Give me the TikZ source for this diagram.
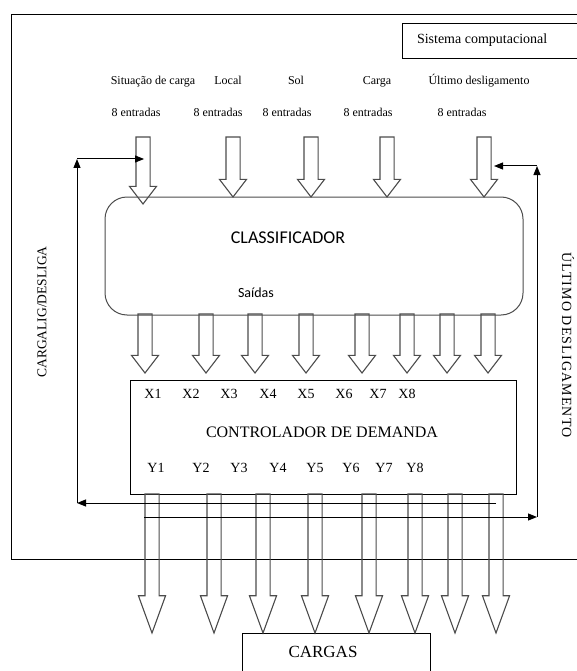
\documentclass[tikz,border=0pt]{standalone}
\usepackage{fontspec}
\setmainfont{Liberation Serif}
\newfontfamily\calibrifont{Carlito}
\usetikzlibrary{arrows.meta,shapes.arrows}

\begin{document}
\begin{tikzpicture}[
  x=1pt,y=-1pt,
  >={Triangle[length=9pt,width=7pt]},
  txt/.style={inner sep=0pt,outer sep=0pt,font=\fontsize{12}{14}\selectfont},
  lbl/.style={txt,anchor=base},
  xy/.style={txt,font=\fontsize{14}{16}\selectfont},
  box/.style={draw,line width=1pt,inner sep=0pt,outer sep=0pt,anchor=north west},
  hollow/.style={single arrow,draw=black!70,line width=1.1pt,inner xsep=0pt,inner ysep=6.5pt,outer sep=0pt,single arrow head extend=6.5pt,rotate=-90,anchor=tail,minimum height=#1},
  shortarrow/.style={hollow=#1,single arrow tip angle=75},
  longarrow/.style={hollow=#1,single arrow tip angle=40},
  flow/.style={->,line width=1pt},
]
\useasboundingbox (0,0) rectangle (576,671);

% boxes
\node[box,minimum width=580pt,minimum height=544pt] (frame) at (11,15) {};
\node[box,minimum width=190pt,minimum height=35pt] (sistema) at (402,24) {};
\node[txt,font=\fontsize{14}{16}\selectfont,anchor=west] (sistxt) at (417,40) {Sistema computacional};
\node[box,draw=black!70,rounded corners=22pt,minimum width=418pt,minimum height=118pt] (classif) at (105,197) {};
\node[txt,font=\calibrifont\fontsize{18}{20}\selectfont] (classtxt) at (288,238) {CLASSIFICADOR};
\node[txt,font=\calibrifont\fontsize{14}{16}\selectfont] (saidas) at (256,293) {Saídas};
\node[box,minimum width=386pt,minimum height=114pt] (ctrl) at (130,380) {};
\node[txt,font=\fontsize{16}{18}\selectfont] (ctrltxt) at (322,432) {CONTROLADOR DE DEMANDA};
\node[box,minimum width=188pt,minimum height=60pt] (cargas) at (242,633) {};
\node[txt,font=\fontsize{17}{19}\selectfont] (cargastxt) at (323,652) {CARGAS};

% inputs
\node[lbl] (lbl1) at (153,85) {Situação de carga};
\node[lbl] (lbl2) at (228,85) {Local};
\node[lbl] (lbl3) at (296,85) {Sol};
\node[lbl] (lbl4) at (377,85) {Carga};
\node[lbl] (lbl5) at (479,85) {Último desligamento};
\node[lbl] (ent1) at (136,117) {8 entradas};
\node[lbl] (ent2) at (218,117) {8 entradas};
\node[lbl] (ent3) at (287,117) {8 entradas};
\node[lbl] (ent4) at (368,117) {8 entradas};
\node[lbl] (ent5) at (462,117) {8 entradas};
\node[shortarrow=67] (in1) at (143,137) {};
\node[shortarrow=60] (in2) at (233,137) {};
\node[shortarrow=60] (in3) at (311,137) {};
\node[shortarrow=60] (in4) at (387,137) {};
\node[shortarrow=60] (in5) at (484,137) {};

% classifier outputs
\node[shortarrow=59] (out1) at (145,314) {};
\node[shortarrow=59] (out2) at (206,314) {};
\node[shortarrow=59] (out3) at (255,314) {};
\node[shortarrow=59] (out4) at (306,314) {};
\node[shortarrow=59] (out5) at (362,314) {};
\node[shortarrow=59] (out6) at (407,314) {};
\node[shortarrow=59] (out7) at (447,314) {};
\node[shortarrow=59] (out8) at (488,314) {};

% controller ports
\node[xy] (x1) at (153,394) {X1};
\node[xy] (x2) at (191,394) {X2};
\node[xy] (x3) at (229,394) {X3};
\node[xy] (x4) at (268,394) {X4};
\node[xy] (x5) at (306,394) {X5};
\node[xy] (x6) at (344,394) {X6};
\node[xy] (x7) at (378,394) {X7};
\node[xy] (x8) at (407,394) {X8};
\node[xy] (y1) at (156,468) {Y1};
\node[xy] (y2) at (201,468) {Y2};
\node[xy] (y3) at (239,468) {Y3};
\node[xy] (y4) at (278,468) {Y4};
\node[xy] (y5) at (315,468) {Y5};
\node[xy] (y6) at (351,468) {Y6};
\node[xy] (y7) at (384,468) {Y7};
\node[xy] (y8) at (415,468) {Y8};

% loads
\node[longarrow=139] (ld1) at (152,494) {};
\node[longarrow=139] (ld2) at (214,494) {};
\node[longarrow=139] (ld3) at (263,494) {};
\node[longarrow=139] (ld4) at (315,494) {};
\node[longarrow=139] (ld5) at (369,494) {};
\node[longarrow=139] (ld6) at (415,494) {};
\node[longarrow=139] (ld7) at (455,494) {};
\node[longarrow=139] (ld8) at (496,494) {};

% feedback
\node[txt,font=\fontsize{13.5}{15}\selectfont,rotate=90] (ligalbl) at (42,312) {CARGALIG/DESLIGA};
\node[txt,font=\addfontfeatures{LetterSpace=8}\fontsize{14}{16}\selectfont,rotate=-90] (ultlbl) at (568,345) {ÚLTIMO DESLIGAMENTO};
\coordinate (fbl) at (77,503);
\coordinate (ftl) at (77,159);
\coordinate (fbr) at (537,517);
\coordinate (ftr) at (537,166);
\draw[flow] (ld8 |- fbl) -- (fbl);
\draw[flow] (fbl) -- (ftl);
\draw[flow] (ftl) -- ([xshift=-6pt]in1.north |- ftl);
\draw[flow] ([xshift=-8pt]ld1 |- fbr) -- (fbr);
\draw[flow] (fbr) -- (ftr);
\draw[flow] (ftr) -- ([xshift=10pt]in5.center |- ftr);
\end{tikzpicture}
\end{document}
